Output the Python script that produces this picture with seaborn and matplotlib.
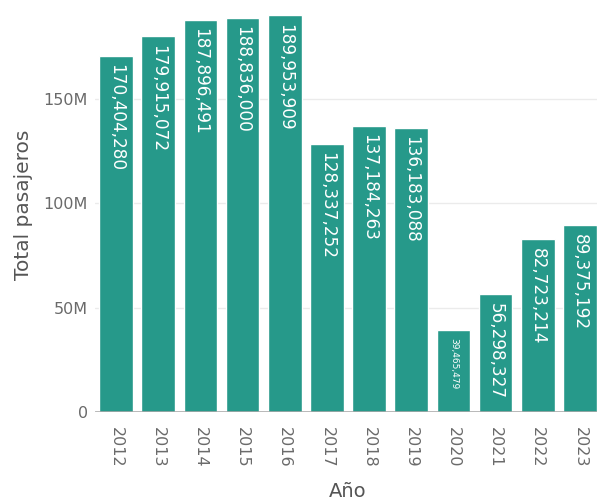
import pandas as pd
import numpy as np
import matplotlib
matplotlib.use("Agg")
import matplotlib.pyplot as plt
import seaborn as sns
from matplotlib.ticker import FuncFormatter

# Data
years = ["2012", "2013", "2014", "2015", "2016", "2017",
         "2018", "2019", "2020", "2021", "2022", "2023"]
pasajeros = [170404280, 179915072, 187896491, 188836000, 189953909, 128337252,
             137184263, 136183088, 39465479, 56298327, 82723214, 89375192]

df = pd.DataFrame({"Año": years, "Total pasajeros": pasajeros})

sns.set_style("white")
plt.rcParams['font.family'] = ['DejaVu Sans']

fig = plt.figure(figsize=(5.97, 5.04), dpi=100)
# axes spans a bit past the right edge, like the reference
ax = fig.add_axes([95 / 597, 1 - 412 / 504, 506 / 597, 402 / 504])

bar_color = "#26998a"
sns.barplot(data=df, x="Año", y="Total pasajeros", color=bar_color,
            saturation=1, width=0.795, ax=ax, zorder=2)

ax.set_ylim(0, 192.5e6)
ax.set_xlim(-0.5, len(years) - 0.5)
ax.set_yticks([0, 50e6, 100e6, 150e6])
ax.yaxis.set_major_formatter(FuncFormatter(lambda v, p: "0" if v == 0 else f"{int(v/1e6)}M"))
ax.grid(axis="y", color="#ebebeb", linewidth=1, zorder=0)
ax.axhline(0, color="#a5a5a5", linewidth=1.8, zorder=3)
for s in ax.spines.values():
    s.set_visible(False)

ax.tick_params(axis="y", colors="#6a6a6a", labelsize=11.5, length=4, width=1,
               pad=1, color="#e0e0e0")
ax.tick_params(axis="x", colors="#6a6a6a", labelsize=11.5, length=0, pad=11, rotation=-90)
ax.set_xlabel("Año", fontsize=14, color="#555555", labelpad=10)
ax.set_ylabel("Total pasajeros", fontsize=14.5, color="#555555")
ax.yaxis.set_label_coords(-0.122, 0.515)

# value labels inside bars, at the top
for i, v in enumerate(pasajeros):
    size = 12.2 if v > 50e6 else 6.5
    ax.annotate(f"{v:,}", (i, v), xytext=(0, -6), textcoords="offset points",
                rotation=-90, ha="center", va="top", color="white",
                fontsize=size, zorder=4)

fig.savefig("out.png", dpi=100)
